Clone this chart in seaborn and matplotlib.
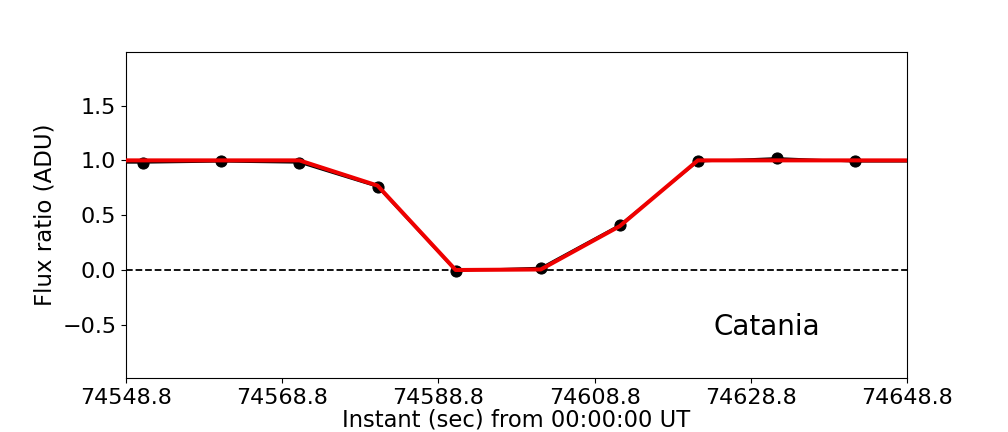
import seaborn as sns
import numpy as np
import pandas as pd
import matplotlib
matplotlib.use("Agg")
import matplotlib.pyplot as plt

# observed light curve (times in seconds from 00:00:00 UT)
times = [74541.0, 74551.0, 74561.0, 74571.0, 74581.0, 74591.0, 74601.9,
         74612.0, 74622.0, 74632.1, 74642.1, 74652.1]
flux = [0.98, 0.98, 0.99, 0.98, 0.76, -0.005, 0.02, 0.41, 0.99, 1.02, 0.99, 0.99]
model = [1.0, 1.0, 1.0, 1.0, 0.77, 0.0, 0.005, 0.40, 1.0, 1.0, 1.0, 1.0]

x_ticks = [74548.8, 74568.8, 74588.8, 74608.8, 74628.8, 74648.8]
y_ticks = [-0.5, 0.0, 0.5, 1.0, 1.5]
site = "Catania"

df = pd.DataFrame({'time': times, 'flux': flux, 'model': model})

fig = plt.figure(figsize=(10.08, 4.32), dpi=100)
ax = fig.add_axes([0.125, 0.125, 0.775, 0.755])

ax.axhline(0.0, color='k', linestyle='--', linewidth=1.3, zorder=1)
sns.lineplot(data=df, x='time', y='flux', color='k', marker='o',
             markersize=8, markeredgecolor='k', linewidth=1.6, ax=ax, zorder=2)
sns.lineplot(data=df, x='time', y='model', color='#ee0000', linewidth=2.9,
             ax=ax, zorder=3)

ax.set_xlim(x_ticks[0], x_ticks[-1])
ax.set_ylim(-0.985, 1.99)
ax.set_xticks(x_ticks)
ax.set_xticklabels([f"{t:.1f}" for t in x_ticks], fontsize=16)
ax.set_yticks(y_ticks)
ax.tick_params(axis='y', labelsize=16)

ax.set_xlabel("Instant (sec) from 00:00:00 UT", fontsize=16.3, labelpad=0.5)
ax.set_ylabel("Flux ratio (ADU)", fontsize=16.5)
ax.text(74624.0, -0.59, site, fontsize=20)

fig.savefig("out.png", dpi=100)
